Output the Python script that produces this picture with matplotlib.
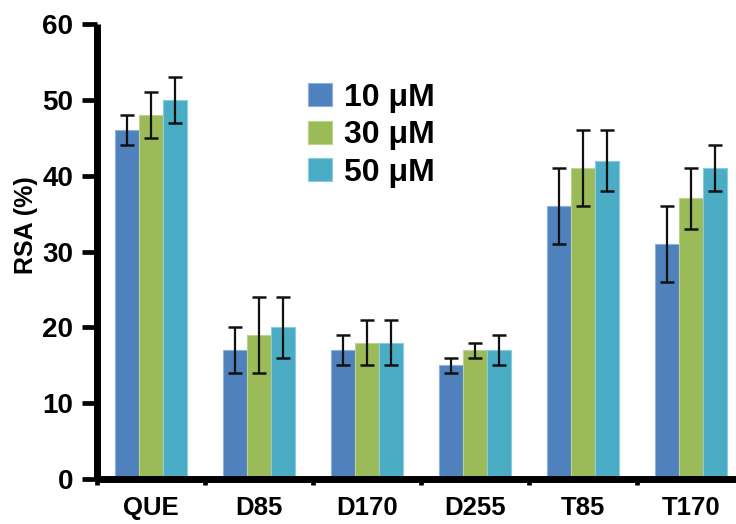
import numpy as np
import matplotlib
matplotlib.use("Agg")
import matplotlib.pyplot as plt

plt.rcParams['font.family'] = ['Liberation Sans', 'DejaVu Sans']
plt.rcParams['font.weight'] = 'bold'

categories = ["QUE", "D85", "D170", "D255", "T85", "T170"]
series_labels = ["10 \u03bcM", "30 \u03bcM", "50 \u03bcM"]
rsa_10 = [46, 17, 17, 15, 36, 31]
rsa_30 = [48, 19, 18, 17, 41, 37]
rsa_50 = [50, 20, 18, 17, 42, 41]
err_10 = [2, 3, 2, 1, 5, 5]
err_30 = [3, 5, 3, 1, 5, 4]
err_50 = [3, 4, 3, 2, 4, 3]
y_ticks = [0, 10, 20, 30, 40, 50, 60]

colors = ["#4F81BD", "#9BBB59", "#4BACC6"]
edges = ["#8DB0DC", "#BCD48E", "#8ACBDC"]

fig = plt.figure(figsize=(7.36, 5.24), dpi=100)
ax = fig.add_axes([97 / 736, 45 / 524, 639 / 736, 455 / 524])

x = np.arange(len(categories))
width = 0.222
values = [rsa_10, rsa_30, rsa_50]
errors = [err_10, err_30, err_50]
handles = []
for i, (vals, errs) in enumerate(zip(values, errors)):
    pos = x + (i - 1) * width
    b = ax.bar(pos, vals, width, color=colors[i], edgecolor=edges[i],
               linewidth=0.8, label=series_labels[i], zorder=2)
    ax.errorbar(pos, vals, yerr=errs, fmt='none', ecolor='#111111',
                elinewidth=1.6, capsize=4.7, capthick=1.8, zorder=3)
    handles.append(b)

ax.set_xlim(-0.5, 5.417)
ax.set_ylim(0, 60)
ax.set_yticks(y_ticks)
ax.set_yticklabels([str(t) for t in y_ticks], fontsize=20, fontweight='bold')
ax.set_xticks(x)
ax.set_xticklabels(categories, fontsize=18.5, fontweight='bold')
ax.set_xticks(np.arange(-0.5, 5.5, 1.0), minor=True)

ax.tick_params(axis='y', direction='out', length=11, width=3.4, pad=6)
ax.tick_params(axis='x', which='major', length=0, pad=12)
ax.tick_params(axis='x', which='minor', direction='out', length=4.5, width=3.4)

for side in ('top', 'right'):
    ax.spines[side].set_visible(False)
for side in ('left', 'bottom'):
    ax.spines[side].set_linewidth(5)
    ax.spines[side].set_capstyle('butt')

ax.set_ylabel("RSA (%)", fontsize=18, fontweight='bold')
ax.yaxis.set_label_coords(-0.092, 0.557)

leg = ax.legend(handles=handles, labels=series_labels, loc='upper left',
                bbox_to_anchor=(0.330, 0.871), frameon=False,
                prop={'size': 23, 'weight': 'bold'},
                handlelength=0.75, handleheight=0.72, handletextpad=0.375,
                labelspacing=0.24, borderaxespad=0, borderpad=0)

fig.savefig("out.png", dpi=100)
